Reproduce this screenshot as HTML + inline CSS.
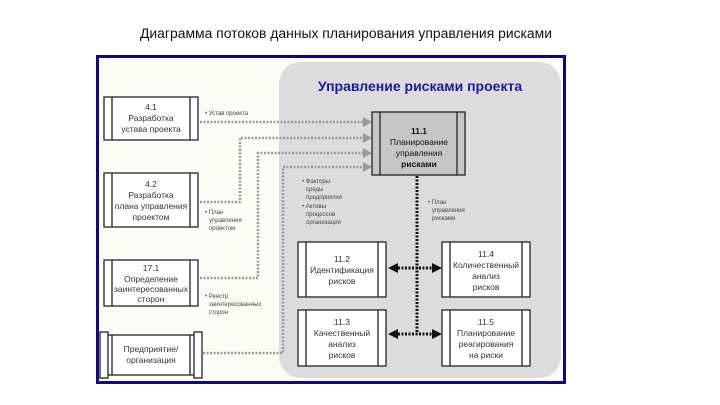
<!DOCTYPE html>
<html><head><meta charset="utf-8"><style>
body{margin:0;background:#fff;width:720px;height:405px;overflow:hidden}
svg{display:block;font-family:"Liberation Sans",sans-serif}
</style></head><body>
<svg width="720" height="405" viewBox="0 0 720 405">
<text x="346" y="38" font-size="13.5" text-anchor="middle" fill="#111" textLength="412" lengthAdjust="spacingAndGlyphs">Диаграмма потоков данных планирования управления рисками</text>
<rect x="97.5" y="56.5" width="467" height="326" fill="#fcfcf6" stroke="#0b0b8a" stroke-width="3"/>
<rect x="279" y="62" width="282" height="316" rx="22" fill="#dcdcdc"/>
<text x="420" y="91" font-size="14" font-weight="bold" fill="#1a1aa0" text-anchor="middle">Управление рисками проекта</text>
<g fill="none" stroke="#9a9a9a" stroke-width="2.5" stroke-dasharray="2,1.5">
<path d="M200 122H365"/>
<path d="M200 202H240V138H365"/>
<path d="M200 278H258V153H365"/>
<path d="M203 353H283V167H365"/>
</g>
<g fill="#9a9a9a">
<path d="M363 117l9 5-9 5z"/><path d="M363 133l9 5-9 5z"/><path d="M363 148l9 5-9 5z"/><path d="M363 162l9 5-9 5z"/>
</g>
<g fill="none" stroke="#111" stroke-width="3" stroke-dasharray="2,1.5">
<path d="M417 176V334"/>
<path d="M398 268H432"/><path d="M398 334H432"/>
</g>
<g fill="#111">
<path d="M388 268l10-5v10z"/><path d="M442 268l-10-5v10z"/>
<path d="M388 334l10-5v10z"/><path d="M442 334l-10-5v10z"/>
</g>
<g fill="#fff" stroke="#222" stroke-width="1.3">
<rect x="104" y="97" width="94" height="43"/><path d="M112 97v43M190 97v43"/>
<rect x="104" y="173" width="94" height="54"/><path d="M112 173v54M190 173v54"/>
<rect x="104" y="260" width="94" height="46"/><path d="M112 260v46M190 260v46"/>
<rect x="104" y="335" width="94" height="40"/><path d="M112 335v40M190 335v40"/>
<rect x="100" y="332" width="8" height="46"/><rect x="194" y="332" width="8" height="46"/>
<rect x="372" y="112" width="93" height="63" fill="#c6c6c6"/><path d="M380 112v63M457 112v63"/>
<rect x="298" y="242" width="88" height="55"/><path d="M306 242v55M378 242v55"/>
<rect x="442" y="242" width="88" height="55"/><path d="M450 242v55M522 242v55"/>
<rect x="298" y="310" width="88" height="56"/><path d="M306 310v56M378 310v56"/>
<rect x="442" y="310" width="88" height="56"/><path d="M450 310v56M522 310v56"/>
</g>
<g font-size="8.5" fill="#333" text-anchor="middle">
<text x="151" y="110">4.1</text><text x="151" y="121">Разработка</text><text x="151" y="132">устава проекта</text>
<text x="151" y="187">4.2</text><text x="151" y="198">Разработка</text><text x="151" y="209">плана управления</text><text x="151" y="220">проектом</text>
<text x="151" y="271">17.1</text><text x="151" y="282">Определение</text><text x="151" y="292">заинтересованных</text><text x="151" y="302">сторон</text>
<text x="151" y="352">Предприятие/</text><text x="151" y="363">организация</text>
<text x="419" y="134" font-weight="bold" fill="#111">11.1</text><text x="419" y="145" fill="#111">Планирование</text><text x="419" y="156" fill="#111">управления</text><text x="419" y="167" font-weight="bold" fill="#111">рисками</text>
<text x="342" y="262">11.2</text><text x="342" y="273">Идентификация</text><text x="342" y="284">рисков</text>
<text x="486" y="257">11.4</text><text x="486" y="268">Количественный</text><text x="486" y="279">анализ</text><text x="486" y="290">рисков</text>
<text x="342" y="325">11.3</text><text x="342" y="336">Качественный</text><text x="342" y="347">анализ</text><text x="342" y="358">рисков</text>
<text x="486" y="325">11.5</text><text x="486" y="336">Планирование</text><text x="486" y="347">реагирования</text><text x="486" y="358">на риски</text>
</g>
<g font-size="6" fill="#444">
<text x="205" y="115">• Устав проекта</text>
<text x="205" y="214">• План</text><text x="209" y="222">управления</text><text x="209" y="230">проектом</text>
<text x="205" y="298">• Реестр</text><text x="209" y="306">заинтересованных</text><text x="209" y="314">сторон</text>
<text x="302" y="183">• Факторы</text><text x="306" y="191">среды</text><text x="306" y="199">предприятия</text>
<text x="302" y="208">• Активы</text><text x="306" y="216">процессов</text><text x="306" y="224">организации</text>
<text x="428" y="204">• План</text><text x="432" y="212">управления</text><text x="432" y="220">рисками</text>
</g>
</svg>
</body></html>
